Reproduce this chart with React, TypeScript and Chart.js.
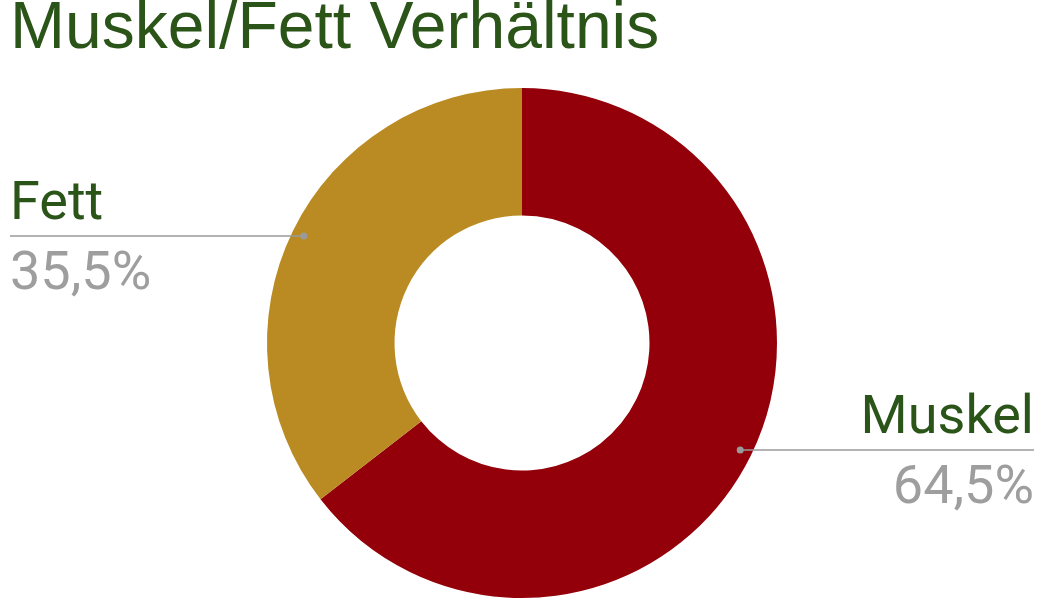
import React, { useEffect, useRef } from "react";
import { Chart, registerables } from "chart.js";

Chart.register(...registerables);

const title = "Muskel/Fett Verhältnis";
const categories = ["Muskel", "Fett"];
const values = [64.5, 35.5];
const colors = ["#94000a", "#b98b22"];
const percentLabels = ["64,5%", "35,5%"];

const labelPlugin = {
  id: "leaderLabels",
  afterDraw(chart: any) {
    const ctx = chart.ctx;
    const meta = chart.getDatasetMeta(0);
    const W = chart.width;
    meta.data.forEach((arc: any, i: number) => {
      const p = arc.getProps(["x", "y", "startAngle", "endAngle", "outerRadius"], true);
      const mid = (p.startAngle + p.endAngle) / 2;
      const r = p.outerRadius * 0.953;
      const dx = p.x + Math.cos(mid) * r;
      const dy = p.y + Math.sin(mid) * r;
      const right = Math.cos(mid) >= 0;
      const endX = right ? W - 5 : 10;
      ctx.save();
      ctx.strokeStyle = "#9a9a9a";
      ctx.lineWidth = 1.5;
      ctx.beginPath();
      ctx.moveTo(dx, dy);
      ctx.lineTo(endX, dy);
      ctx.stroke();
      ctx.fillStyle = "#9a9a9a";
      ctx.beginPath();
      ctx.arc(dx, dy, 3.5, 0, Math.PI * 2);
      ctx.fill();
      ctx.font = "54px Roboto";
      ctx.textAlign = right ? "right" : "left";
      ctx.textBaseline = "alphabetic";
      ctx.fillStyle = "#2b5419";
      ctx.fillText(categories[i], endX, dy - 17);
      ctx.fillStyle = "#9e9e9e";
      ctx.fillText(percentLabels[i], endX, dy + 53);
      ctx.restore();
    });
  },
};

export default function App() {
  const ref = useRef<HTMLCanvasElement>(null);
  useEffect(() => {
    const chart = new Chart(ref.current!, {
      type: "doughnut",
      data: {
        labels: categories,
        datasets: [
          {
            data: values,
            backgroundColor: colors,
            borderWidth: 0,
          },
        ],
      },
      options: {
        animation: false,
        responsive: false,
        cutout: "50%",
        layout: { padding: { left: 10, right: 5, top: 0, bottom: 5 } },
        plugins: {
          legend: { display: false },
          tooltip: { enabled: false },
          title: {
            display: true,
            text: title,
            align: "start",
            color: "#2b5419",
            font: { family: "'Liberation Sans', Arial, sans-serif", size: 66, weight: "normal", lineHeight: 0.9 },
            padding: { top: 0, bottom: 28.6 },
          },
        },
      },
      plugins: [labelPlugin],
    });
    return () => chart.destroy();
  }, []);
  return (
    <div style={{ position: "fixed", left: 0, top: 0, width: 1039, height: 603, background: "#fff" }}>
      <canvas ref={ref} width={1039} height={603} />
    </div>
  );
}
